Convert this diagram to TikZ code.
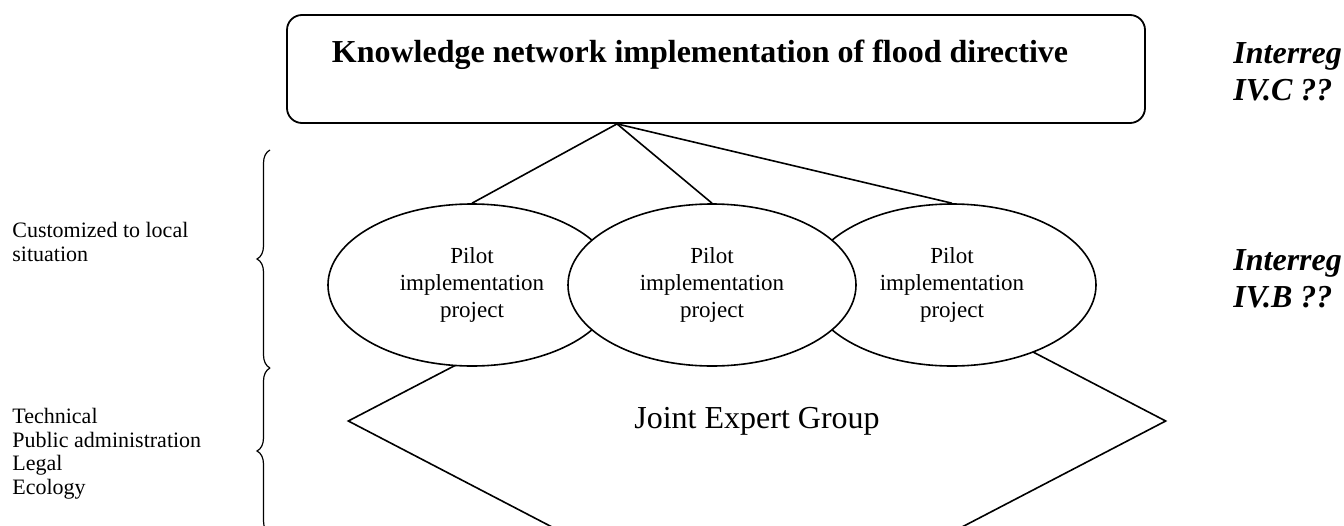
\documentclass[tikz,border=0pt]{standalone}
\usepackage{fontspec}
\setmainfont{Liberation Serif}
\usetikzlibrary{shapes.geometric,decorations.pathreplacing}
\tikzset{
  topbox/.style = {rectangle, draw=black, rounded corners=7.5pt, line width=0.9pt, inner sep=0pt, minimum width=429pt, minimum height=54pt},
  pilot/.style = {ellipse, draw=black, fill=white, line width=0.8pt, inner sep=0pt, minimum width=144pt, minimum height=81pt, align=center, font=\fontsize{11.5}{13.5}\selectfont},
  expert/.style = {diamond, draw=black, line width=0.8pt, inner sep=0pt, minimum width=409pt, minimum height=213pt, font=\fontsize{16}{19}\selectfont},
  sidenote/.style = {align=left, anchor=north west, inner sep=0pt, font=\fontsize{11}{11.75}\selectfont},
  program/.style = {align=left, anchor=north west, inner sep=0pt, font=\fontsize{16}{18.5}\selectfont\bfseries\itshape},
  bracket/.style = {decorate, decoration={brace, amplitude=6.5pt}, line width=0.6pt}
}

\begin{document}
\begin{tikzpicture}[x=0.5pt, y=-0.5pt]

\useasboundingbox (0,0) rectangle (1344,525);
\clip (0,0) rectangle (1344,525);

% Draw the network box on top
\node [topbox] (kn) at (716,69) {};
\node [anchor=base, inner sep=0pt, font=\fontsize{16}{19}\selectfont\bfseries] (title) at (700,62)
  {Knowledge network implementation of flood directive};
\coordinate (apex) at ([xshift=-49.5pt]kn.south);

% Draw the expert group behind the pilots
\node [expert] (jeg) at (757,421) {Joint Expert Group};

% Draw the pilots
\node [pilot] (p1) at (472,285) {Pilot\\implementation\\project};
\node [pilot] (p3) at (952,285) {Pilot\\implementation\\project};
\node [pilot] (p2) at (712,285) {Pilot\\implementation\\project};

\draw [line width=0.8pt] (apex) -- (p1.north);
\draw [line width=0.8pt] (apex) -- (p2.north);
\draw [line width=0.8pt] (apex) -- (p3.north);

% Braces and notes on the left
\draw [bracket] (270,368) -- (270,150);
\draw [bracket] (270,534) -- (270,368);
\node [sidenote] (local) at (12,222) {Customized to local\\situation};
\node [sidenote] (fields) at (12,408) {Technical\\Public administration\\Legal\\Ecology};

% Programmes on the right
\node [program] (ivc) at (1233,42) {Interreg\\IV.C ??};
\node [program] (ivb) at (1233,249) {Interreg\\IV.B ??};

\end{tikzpicture}
\end{document}
